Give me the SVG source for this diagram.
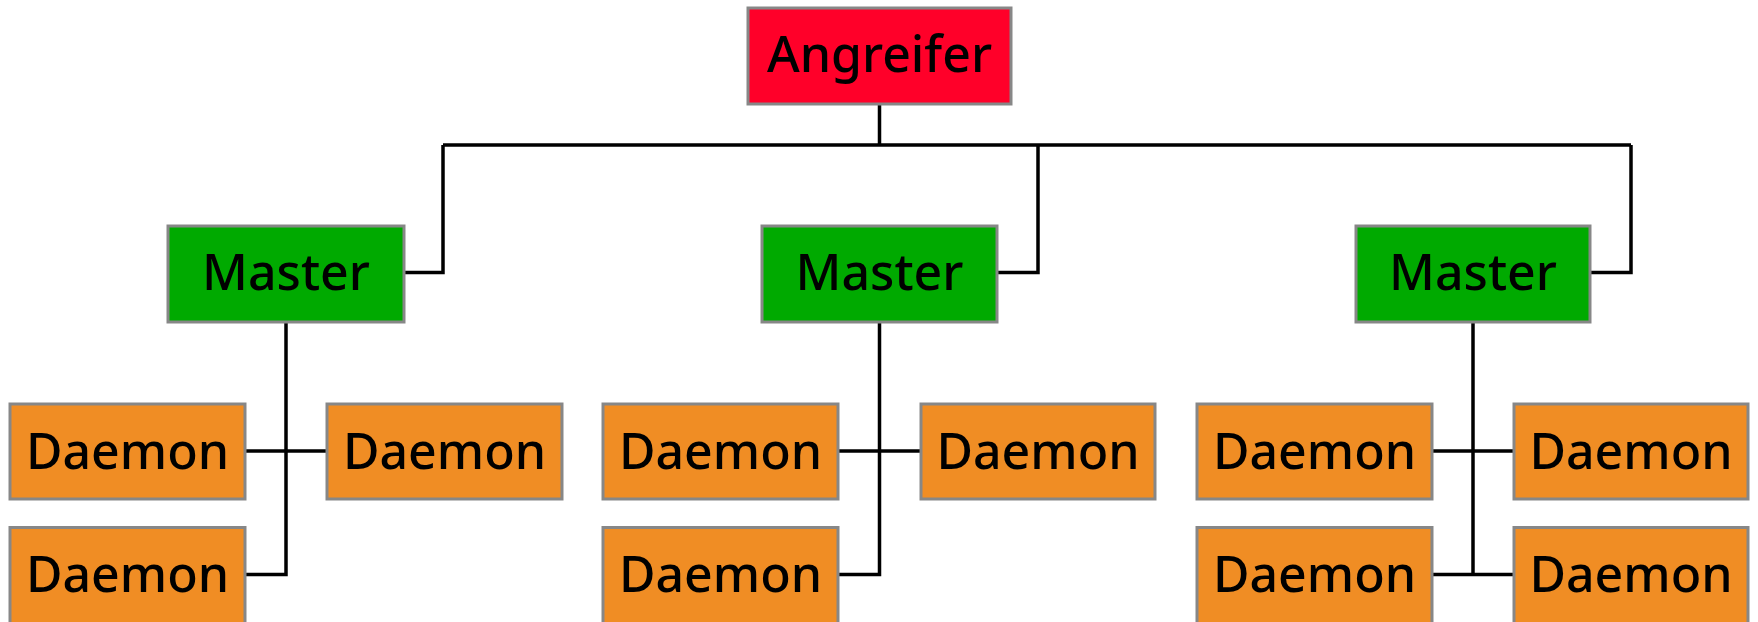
<svg xmlns="http://www.w3.org/2000/svg" width="1758" height="622" viewBox="0 0 1758 622">
  <style>
    .box { stroke: #878787; stroke-width: 3; }
    .attacker { fill: #ff0029; }
    .master { fill: #00aa00; }
    .daemon { fill: #f08d24; }
    .label { font-family: "Noto Sans", "Open Sans", "DejaVu Sans", sans-serif; font-size: 50px; font-weight: 500; fill: #000; text-anchor: middle; }
    .wire { fill: none; stroke: #000; stroke-width: 3.5; stroke-linejoin: miter; }
  </style>
  <rect width="1758" height="622" fill="#ffffff"/>

  <!-- connectors -->
  <g id="connectors">
    <path class="wire" d="M879.5,104 V145 M443,145 H1631"/>
    <path class="wire" d="M404.5,272.5 H443 V145"/>
    <path class="wire" d="M997.5,272.5 H1038 V145"/>
    <path class="wire" d="M1590.5,272.5 H1631 V145"/>
    <!-- group 1 -->
    <path class="wire" d="M286,322 V574.5 H245"/>
    <path class="wire" d="M245,451 H327"/>
    <!-- group 2 -->
    <path class="wire" d="M879.5,322 V574.5 H838"/>
    <path class="wire" d="M838,451 H921"/>
    <!-- group 3 -->
    <path class="wire" d="M1473,322 V574.5"/>
    <path class="wire" d="M1432,451 H1514 M1432,574.5 H1514"/>
  </g>

  <!-- attacker -->
  <g id="angreifer">
    <rect class="box attacker" x="748" y="8" width="263" height="96"/>
    <text class="label" x="879.5" y="72">Angreifer</text>
  </g>

  <!-- masters -->
  <g id="master-1">
    <rect class="box master" x="168" y="226" width="236" height="96"/>
    <text class="label" x="286" y="290">Master</text>
  </g>
  <g id="master-2">
    <rect class="box master" x="762" y="226" width="235" height="96"/>
    <text class="label" x="879.5" y="290">Master</text>
  </g>
  <g id="master-3">
    <rect class="box master" x="1356" y="226" width="234" height="96"/>
    <text class="label" x="1473" y="290">Master</text>
  </g>

  <!-- daemons, group 1 -->
  <g id="daemon-1a">
    <rect class="box daemon" x="10" y="404" width="235" height="95"/>
    <text class="label" x="127.5" y="468.5">Daemon</text>
  </g>
  <g id="daemon-1b">
    <rect class="box daemon" x="327" y="404" width="235" height="95"/>
    <text class="label" x="444.5" y="468.5">Daemon</text>
  </g>
  <g id="daemon-1c">
    <rect class="box daemon" x="10" y="527.5" width="235" height="97"/>
    <text class="label" x="127.5" y="592">Daemon</text>
  </g>

  <!-- daemons, group 2 -->
  <g id="daemon-2a">
    <rect class="box daemon" x="603" y="404" width="235" height="95"/>
    <text class="label" x="720.5" y="468.5">Daemon</text>
  </g>
  <g id="daemon-2b">
    <rect class="box daemon" x="921" y="404" width="234" height="95"/>
    <text class="label" x="1038" y="468.5">Daemon</text>
  </g>
  <g id="daemon-2c">
    <rect class="box daemon" x="603" y="527.5" width="235" height="97"/>
    <text class="label" x="720.5" y="592">Daemon</text>
  </g>

  <!-- daemons, group 3 -->
  <g id="daemon-3a">
    <rect class="box daemon" x="1197" y="404" width="235" height="95"/>
    <text class="label" x="1314.5" y="468.5">Daemon</text>
  </g>
  <g id="daemon-3b">
    <rect class="box daemon" x="1514" y="404" width="234" height="95"/>
    <text class="label" x="1631" y="468.5">Daemon</text>
  </g>
  <g id="daemon-3c">
    <rect class="box daemon" x="1197" y="527.5" width="235" height="97"/>
    <text class="label" x="1314.5" y="592">Daemon</text>
  </g>
  <g id="daemon-3d">
    <rect class="box daemon" x="1514" y="527.5" width="234" height="97"/>
    <text class="label" x="1631" y="592">Daemon</text>
  </g>
</svg>
